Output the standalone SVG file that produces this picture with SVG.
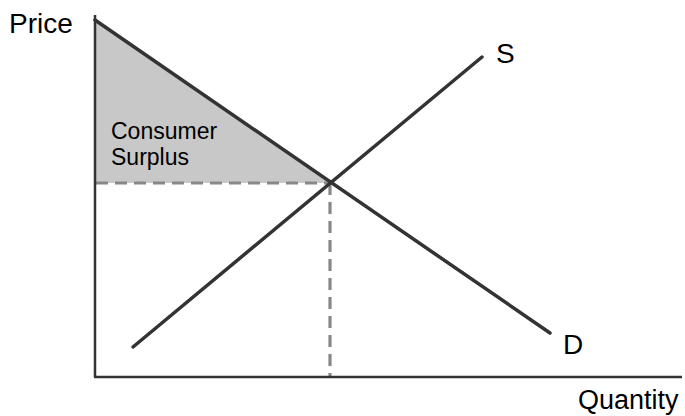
<svg xmlns="http://www.w3.org/2000/svg" width="685" height="416" viewBox="0 0 685 416">
<style>
.axis{stroke:#333;stroke-width:2.5;fill:none}
.curve{stroke:#333;stroke-width:3.5;fill:none;stroke-linecap:round}
.dash{stroke:#888;stroke-width:3.2;fill:none;stroke-dasharray:12 7}
.lbl{font-family:"Liberation Sans",Arial,sans-serif;font-size:28px;fill:#000}
.cs{font-family:"Liberation Sans",Arial,sans-serif;font-size:23px;fill:#000}
</style>
<rect width="685" height="416" fill="#fff"/>
<g id="surplus">
<polygon points="95,20 330,183 95,183" fill="#c8c8c8"/>
<text class="cs" x="111" y="139">Consumer</text>
<text class="cs" x="111" y="165">Surplus</text>
</g>
<g id="connectors">
<line class="dash" x1="96" y1="183" x2="330" y2="183"/>
<line class="dash" x1="330" y1="183" x2="330" y2="377"/>
<line class="curve" x1="95" y1="20" x2="550" y2="333"/>
<line class="curve" x1="133" y1="347" x2="482" y2="57"/>
</g>
<g id="axes">
<line class="axis" x1="95" y1="15" x2="95" y2="377"/>
<line class="axis" x1="94" y1="377" x2="682" y2="377"/>
</g>
<g id="labels">
<text class="lbl" x="9" y="33">Price</text>
<text class="lbl" x="496" y="63">S</text>
<text class="lbl" x="563" y="354">D</text>
<text class="lbl" x="578" y="409" style="font-size:27px">Quantity</text>
</g>
</svg>
